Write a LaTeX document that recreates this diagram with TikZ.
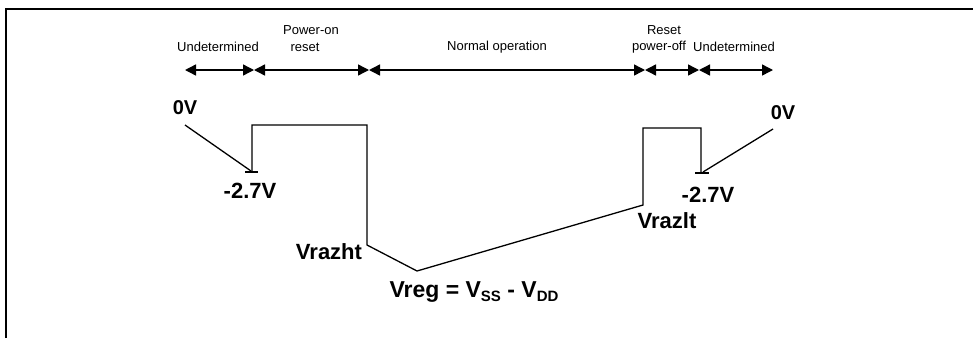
\documentclass[tikz,border=0pt]{standalone}
\usepackage{fontspec}
\setmainfont{Liberation Sans}
\usetikzlibrary{arrows.meta}
\begin{document}
\begin{tikzpicture}[x=1pt,y=-1pt,
  phase/.style={font=\fontsize{13}{14}\selectfont, inner sep=0pt, align=center},
  volt/.style={font=\fontsize{22}{22}\selectfont\bfseries, inner sep=0pt},
  zero/.style={font=\fontsize{20}{22}\selectfont\bfseries, inner sep=0pt},
  span/.style={line width=1.4pt, {Triangle[length=11pt,width=11pt]}-{Triangle[length=11pt,width=11pt]}},
  wave/.style={line width=1.3pt},
  frame/.style={line width=2pt}]
\useasboundingbox (0,0) rectangle (973,338);
% frame
\coordinate (fb) at (6,338);
\coordinate (fc) at (6,9);
\coordinate (fr) at (973,9);
\draw[frame] (fb) -- (fc) -- (fr);
% phase arrows
\coordinate (b0) at (185,70);
\coordinate (b1) at (254,70);
\coordinate (b2) at (369,70);
\coordinate (b3) at (645,70);
\coordinate (b4) at (699,70);
\coordinate (b5) at (773,70);
\draw[span] (b0) -- (b1);
\draw[span] (b1) -- (b2);
\draw[span] (b2) -- (b3);
\draw[span] (b3) -- (b4);
\draw[span] (b4) -- (b5);
% phase labels
\node[phase] (l1) at (218,47) {Undetermined};
\node[phase] (l2a) at (311,30) {Power-on};
\node[phase] (l2b) at (305,47) {reset};
\node[phase] (l3) at (497,47) {Normal operation};
\node[phase] (l4a) at (664,30) {Reset};
\node[phase] (l4b) at (659,47) {power-off};
\node[phase] (l5) at (734,47) {Undetermined};
% voltage labels
\node[zero] (z1) at (185,108) {0V};
\node[volt] (m1) at (250,191) {-2.7V};
\node[volt] (vh) at (329,252) {Vrazht};
\node[volt, font=\fontsize{23}{24}\selectfont\bfseries] (vr) at (474,292)
  {Vreg = V\raisebox{-4pt}{\fontsize{15}{15}\selectfont SS} - V\raisebox{-4pt}{\fontsize{15}{15}\selectfont DD}};
\node[volt] (vl) at (667,221) {Vrazlt};
\node[volt] (m2) at (708,195) {-2.7V};
\node[zero] (z2) at (783,113) {0V};
% waveform
\coordinate (a0) at (185,125);
\coordinate (a1) at (251,171);
\coordinate (t1a) at (245,172);
\coordinate (t1b) at (258,172);
\coordinate (w0) at (252,172);
\coordinate (w1) at (252,125);
\coordinate (w2) at (367,125);
\coordinate (w3) at (367,245);
\coordinate (w4) at (417,271);
\coordinate (w5) at (643,205);
\coordinate (w6) at (643,128);
\coordinate (w7) at (701,128);
\coordinate (w8) at (701,173);
\coordinate (t2a) at (695,173);
\coordinate (t2b) at (709,173);
\coordinate (c0) at (703,172);
\coordinate (c1) at (773,129);
\draw[wave] (a0) -- (a1);
\draw[wave] (t1a) -- (t1b);
\draw[wave] (w0) -- (w1) -- (w2) -- (w3) -- (w4) -- (w5) -- (w6) -- (w7) -- (w8);
\draw[wave] (t2a) -- (t2b);
\draw[wave] (c0) -- (c1);
\end{tikzpicture}
\end{document}
